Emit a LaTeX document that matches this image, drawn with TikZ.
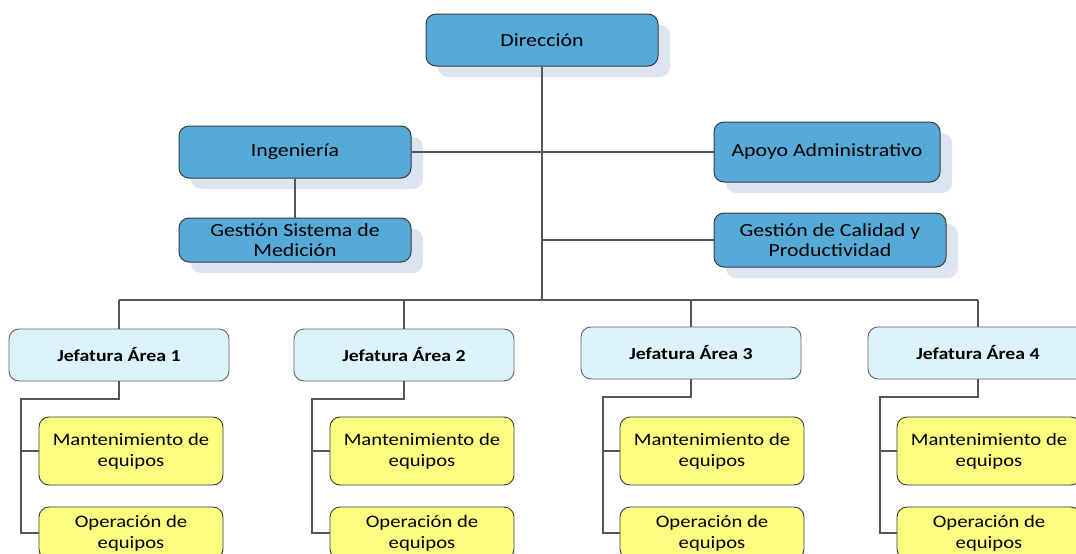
\documentclass[tikz,border=0pt]{standalone}
\usepackage{fontspec}
\setmainfont{Carlito}
\newfontfamily\widefont[FakeStretch=1.18]{Carlito}
\usetikzlibrary{shadows}
\definecolor{bluefill}{HTML}{55AAD7}
\definecolor{shadowc}{HTML}{DCE4F1}
\definecolor{jeffill}{HTML}{DCF4F9}
\definecolor{yelfill}{HTML}{FDFD80}
\definecolor{edgec}{HTML}{3A3A3A}
\definecolor{linec}{HTML}{555555}
\tikzset{
  bluebox/.style={draw=edgec, line width=1pt, fill=bluefill, rounded corners=10pt,
    align=center, inner sep=2pt, font=\widefont\fontsize{18.5}{20}\selectfont,
    drop shadow={shadow xshift=12pt, shadow yshift=-11pt, fill=shadowc, opacity=1}},
  jefbox/.style={draw=edgec!80, line width=0.9pt, fill=jeffill, rounded corners=10pt,
    align=center, minimum width=220pt, minimum height=52pt, inner sep=2pt,
    font=\widefont\fontsize{16.8}{19}\selectfont\bfseries},
  yelbox/.style={draw=edgec, line width=0.9pt, fill=yelfill, rounded corners=10pt,
    align=center, minimum width=184pt, inner sep=2pt, font=\widefont\fontsize{17.5}{21}\selectfont},
  conn/.style={draw=linec, line width=1.3pt},
}
\begin{document}
\begin{tikzpicture}[x=1pt,y=-1pt]
\useasboundingbox (0,0) rectangle (1076,554);
\clip (0,0) rectangle (1076,554);
\fill[white] (0,0) rectangle (1076,554);
% top level
\node[bluebox, minimum width=232pt, minimum height=52pt] (dir) at (542,40) {Dirección};
\node[bluebox, minimum width=232pt, minimum height=52pt] (ing) at (295,152) {Ingeniería};
\node[bluebox, minimum width=232pt, minimum height=44pt] (gsm) at (295,240) {Gestión Sistema de\\Medición};
\node[bluebox, minimum width=226pt, minimum height=60pt] (apo) at (827,152) {Apoyo Administrativo};
\node[bluebox, minimum width=232pt, minimum height=54pt] (gcp) at (830,240) {Gestión de Calidad y\\Productividad};
\coordinate (bus) at (542,300);
% jefaturas
\node[jefbox] (j1) at (119,355) {Jefatura Área 1};
\node[jefbox] (j2) at (404,355) {Jefatura Área 2};
\node[jefbox] (j3) at (691,353) {Jefatura Área 3};
\node[jefbox] (j4) at (978,353) {Jefatura Área 4};
% yellow boxes
\node[yelbox, minimum height=68pt] (m1) at (131,451) {Mantenimiento de\\equipos};
\node[yelbox, minimum height=52pt] (o1) at (131,533) {Operación de\\equipos};
\node[yelbox, minimum height=68pt] (m2) at (422,451) {Mantenimiento de\\equipos};
\node[yelbox, minimum height=52pt] (o2) at (422,533) {Operación de\\equipos};
\node[yelbox, minimum height=68pt] (m3) at (712,451) {Mantenimiento de\\equipos};
\node[yelbox, minimum height=52pt] (o3) at (712,533) {Operación de\\equipos};
\node[yelbox, minimum height=68pt] (m4) at (989,451) {Mantenimiento de\\equipos};
\node[yelbox, minimum height=52pt] (o4) at (989,533) {Operación de\\equipos};
\coordinate (s1) at (21,399);
\coordinate (s2) at (312,399);
\coordinate (s3) at (603,397);
\coordinate (s4) at (880,397);
% connectors
\draw[conn] (dir.south) -- (bus);
\draw[conn] (ing.east) -- (apo.west);
\draw[conn] (ing.south) -- (gsm.north);
\draw[conn] (dir.south |- gcp.west) -- (gcp.west);
\draw[conn] (j1.north |- bus) -- (j4.north |- bus);
\foreach \j in {1,2,3,4}{
  \draw[conn] (j\j.north) -- (j\j.north |- bus);
  \draw[conn] (j\j.south) |- (s\j) -- (s\j |- o\j.west) -- (o\j.west);
  \draw[conn] (s\j |- m\j.west) -- (m\j.west);
}
\end{tikzpicture}
\end{document}
